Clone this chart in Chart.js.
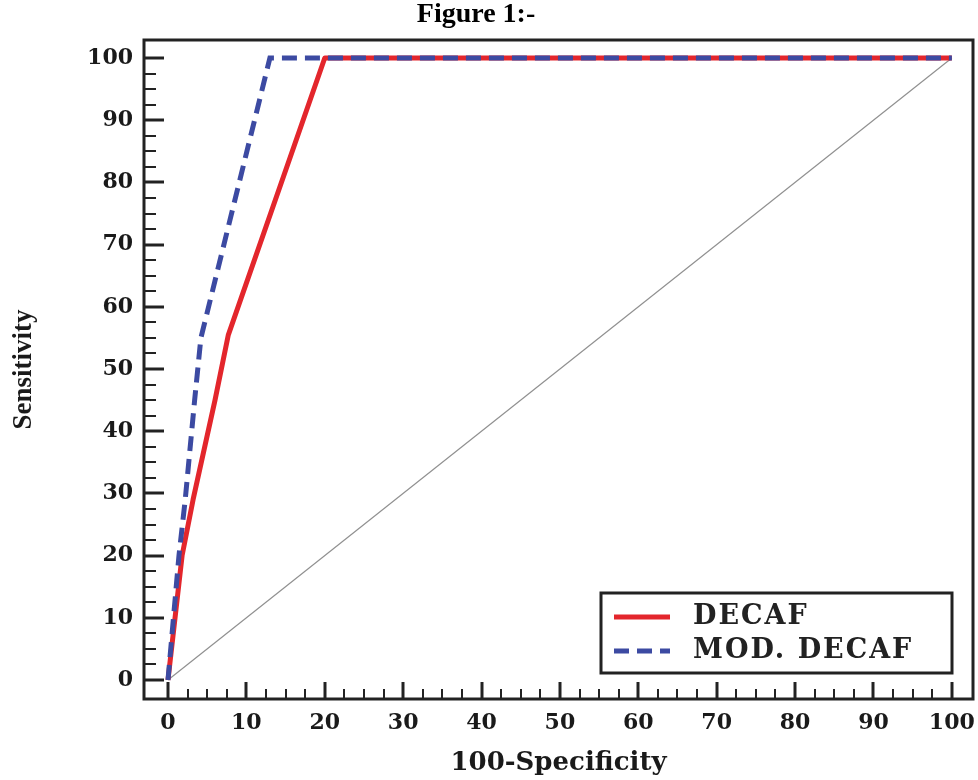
<!DOCTYPE html>
<html>
<head>
<meta charset="utf-8">
<script src="https://cdn.jsdelivr.net/npm/chart.js@4.4.1/dist/chart.umd.min.js"></script>
<style>
  html, body { margin: 0; padding: 0; background: #fff; }
  #wrap { width: 978px; height: 780px; }
</style>
</head>
<body>
<div id="wrap"><canvas id="roc"></canvas></div>
<script>
// values
const decafX = [0, 1.8, 3.2, 6, 7.7, 20, 100];
const decafY = [0, 20, 29, 45, 55.5, 100, 100];
const modX = [0, 1.4, 2.2, 3.4, 4.2, 13, 100];
const modY = [0, 20, 29, 45, 55, 100, 100];
const refX = [0, 100];
const refY = [0, 100];
const xTicks = [0, 10, 20, 30, 40, 50, 60, 70, 80, 90, 100];
const yTicks = [0, 10, 20, 30, 40, 50, 60, 70, 80, 90, 100];

const toPoints = (xs, ys) => xs.map((x, i) => ({ x: x, y: ys[i] }));

const tickFont = { family: 'DejaVu Serif', size: 22, weight: 'bold' };

// frame, inward ticks, legend box and figure caption
const framePlugin = {
  id: 'frame',
  afterDraw(chart) {
    const ctx = chart.ctx;
    const { left, top, right, bottom } = chart.chartArea;
    const xs = chart.scales.x, ys = chart.scales.y;
    ctx.save();

    ctx.strokeStyle = '#222';
    ctx.lineCap = 'butt';
    for (let v = 0; v <= 100; v += 2.5) {
      const major = v % 10 === 0;
      ctx.lineWidth = major ? 3 : 2;
      const px = Math.round(xs.getPixelForValue(v));
      ctx.beginPath();
      ctx.moveTo(px, bottom);
      ctx.lineTo(px, bottom - (major ? 17 : 10));
      ctx.stroke();
      const py = Math.round(ys.getPixelForValue(v));
      ctx.beginPath();
      ctx.moveTo(left, py);
      ctx.lineTo(left + (major ? 20 : 12), py);
      ctx.stroke();
    }

    ctx.lineWidth = 3;
    ctx.strokeRect(left, top, right - left, bottom - top);

    // legend
    const bx = right - 372, by = bottom - 106, bw = 351, bh = 80;
    ctx.fillStyle = '#fff';
    ctx.fillRect(bx, by, bw, bh);
    ctx.lineWidth = 3;
    ctx.strokeStyle = '#222';
    ctx.strokeRect(bx, by, bw, bh);
    const items = chart.data.datasets.filter(d => d.label);
    items.forEach((d, i) => {
      const cy = by + 24 + i * 34;
      ctx.strokeStyle = d.borderColor;
      ctx.lineWidth = 5;
      ctx.setLineDash(d.borderDash || []);
      ctx.beginPath();
      ctx.moveTo(bx + 13, cy);
      ctx.lineTo(bx + 69, cy);
      ctx.stroke();
      ctx.setLineDash([]);
      ctx.fillStyle = '#222';
      ctx.font = 'bold 27px "DejaVu Serif"';
      ctx.letterSpacing = '2px';
      ctx.textBaseline = 'middle';
      ctx.textAlign = 'left';
      ctx.fillText(d.label, bx + 92, cy);
    });
    ctx.letterSpacing = '0px';

    ctx.fillStyle = '#000';
    ctx.font = 'bold 28px "Liberation Serif"';
    ctx.textAlign = 'center';
    ctx.textBaseline = 'middle';
    ctx.fillText('Figure 1:-', 476, 15);
    ctx.restore();
  }
};

const myChart = new Chart(document.getElementById('roc').getContext('2d'), {
  type: 'scatter',
  data: {
    datasets: [
      {
        label: 'DECAF',
        data: toPoints(decafX, decafY),
        showLine: true,
        borderColor: '#e3262c',
        borderWidth: 5,
        borderJoinStyle: 'round',
        pointRadius: 0,
        order: 1
      },
      {
        label: 'MOD. DECAF',
        data: toPoints(modX, modY),
        showLine: true,
        borderColor: '#3c4aa2',
        borderWidth: 5,
        borderDash: [15, 8],
        pointRadius: 0,
        order: 0
      },
      {
        label: '',
        data: toPoints(refX, refY),
        showLine: true,
        borderColor: '#909090',
        borderWidth: 1.2,
        pointRadius: 0,
        order: 2
      }
    ]
  },
  options: {
    responsive: true,
    maintainAspectRatio: false,
    animation: false,
    layout: { padding: { top: 40, right: 5, left: 0, bottom: 0 } },
    scales: {
      x: {
        type: 'linear',
        min: -3.06,
        max: 102.7,
        afterBuildTicks: s => { s.ticks = xTicks.map(v => ({ value: v })); },
        afterFit: s => { s.height = 81; s.paddingLeft = 0; s.paddingRight = 0; },
        grid: { display: false, drawTicks: false },
        border: { display: false },
        ticks: { font: tickFont, color: '#1a1a1a', padding: 11, maxRotation: 0, autoSkip: false },
        title: {
          display: true,
          text: '100-Specificity',
          color: '#1a1a1a',
          font: { family: 'DejaVu Serif', size: 26, weight: 'bold' },
          padding: { top: 0, bottom: 1 }
        }
      },
      y: {
        type: 'linear',
        min: -3.05,
        max: 102.9,
        afterBuildTicks: s => { s.ticks = yTicks.map(v => ({ value: v })); },
        afterFit: s => { s.width = 144; s.paddingTop = 0; s.paddingBottom = 0; },
        grid: { display: false, drawTicks: false },
        border: { display: false },
        ticks: { font: tickFont, color: '#1a1a1a', padding: 11, autoSkip: false },
        title: {
          display: true,
          text: 'Sensitivity',
          color: '#1a1a1a',
          font: { family: 'Liberation Serif', size: 27, weight: 'bold' },
          padding: { top: 8, bottom: 0 }
        }
      }
    },
    plugins: {
      legend: { display: false },
      tooltip: { enabled: false }
    }
  },
  plugins: [framePlugin]
});
</script>
</body>
</html>
